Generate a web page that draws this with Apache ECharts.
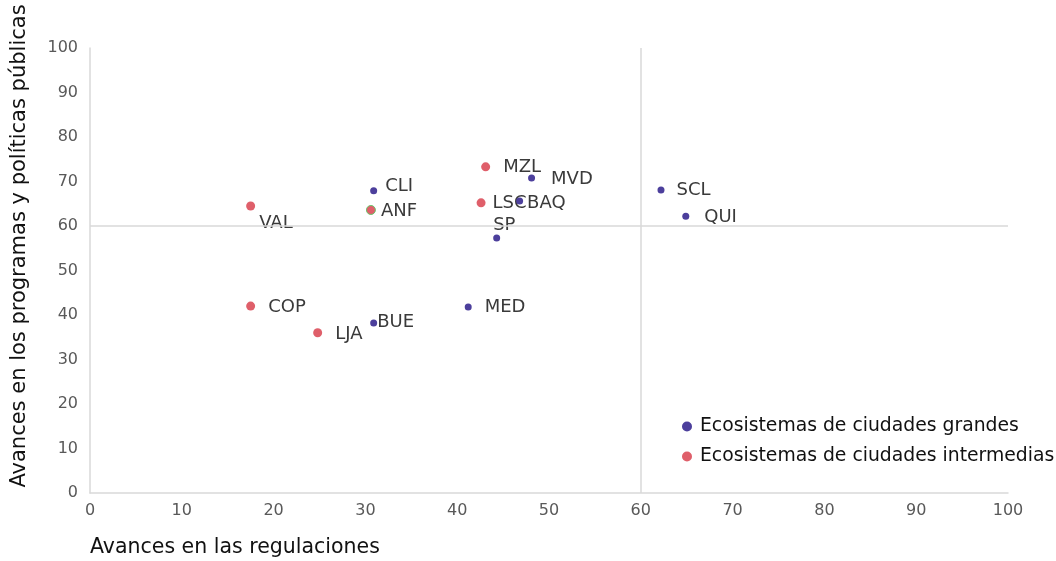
<!DOCTYPE html>
<html><head><meta charset="utf-8">
<script src="https://cdn.jsdelivr.net/npm/echarts@6/dist/echarts.min.js"></script>
<style>html,body{margin:0;padding:0;background:#fff}#c{width:1056px;height:561px}</style>
</head><body><div id="c"></div>
<script>
// Data
const grandesNames = ['CLI','MVD','BAQ','SP','SCL','QUI','BUE','MED'];
const grandesX = [30.9, 48.1, 46.8, 44.3, 62.2, 64.9, 30.9, 41.2];
const grandesY = [67.9, 70.8, 65.6, 57.3, 68.1, 62.2, 38.2, 41.8];
const intermNames = ['VAL','ANF','MZL','LSC','COP','LJA'];
const intermX = [17.5, 30.6, 43.1, 42.6, 17.5, 24.8];
const intermY = [64.5, 63.6, 73.3, 65.2, 42.0, 36.0];
const seriesNames = ['Ecosistemas de ciudades grandes','Ecosistemas de ciudades intermedias'];
const axisTicks = [0,10,20,30,40,50,60,70,80,90,100];
const refX = 60, refY = 60;

// Label placement (style only)
const labelOffsets = {
  CLI:[3,-5], MVD:[11,1], BAQ:[-1,2], SP:[-12,-13], SCL:[7,0], QUI:[10,1], BUE:[-5,-1], MED:[8,0],
  VAL:[-1,17], ANF:[0,1], MZL:[8,1], LSC:[2,0], COP:[8,1], LJA:[8,2]
};

const FONT = '"DejaVu Sans", sans-serif';
function build(names, xs, ys, extra){
  return names.map((n,i)=>{
    const o = {name:n, value:[xs[i], ys[i]], label:{offset: labelOffsets[n] || [0,0]}};
    if (extra && extra[n]) Object.assign(o, extra[n]);
    return o;
  });
}

const chart = echarts.init(document.getElementById('c'), null, {renderer:'canvas'});
const labelCfg = {show:true, position:'right', distance:5, formatter:p=>p.name,
  color:'#3a3a3a', fontSize:18, fontFamily:FONT};
chart.setOption({
  animation:false,
  grid:{left:90, right:48, top:48, bottom:68},
  xAxis:{type:'value', min:0, max:100, interval:10,
    axisLine:{show:true, lineStyle:{color:'#d9d9d9', width:1.5}},
    axisTick:{show:false}, splitLine:{show:false},
    axisLabel:{color:'#595959', fontSize:16, fontFamily:FONT, margin:10,
      formatter:v=>axisTicks.indexOf(v)>=0? String(v):''}},
  yAxis:{type:'value', min:0, max:100, interval:10,
    axisLine:{show:true, lineStyle:{color:'#d9d9d9', width:1.5}},
    axisTick:{show:false}, splitLine:{show:false},
    axisLabel:{color:'#595959', fontSize:16, fontFamily:FONT, margin:12,
      formatter:v=>axisTicks.indexOf(v)>=0? String(v):''}},
  legend:{orient:'vertical', left:677, top:412, itemGap:11, itemWidth:10, itemHeight:10,
    icon:'circle', textStyle:{color:'#111', fontSize:18.8, fontFamily:FONT, padding:[0,0,0,3]},
    data:seriesNames},
  graphic:[
    {type:'text', left:90, top:537, style:{text:'Avances en las regulaciones', fill:'#111', fontSize:20.5, fontFamily:FONT}},
    {type:'text', x:20, y:246, rotation:Math.PI/2,
      style:{text:'Avances en los programas y políticas públicas', fill:'#111', fontSize:21, fontFamily:FONT,
        align:'center', verticalAlign:'middle'}}
  ],
  series:[
    {name:seriesNames[0], type:'scatter', symbolSize:7, itemStyle:{color:'#4c3f9c', opacity:1},
      label:labelCfg, z:3,
      data:build(grandesNames, grandesX, grandesY),
      markLine:{silent:true, symbol:'none', label:{show:false},
        lineStyle:{color:'#d9d9d9', width:1.5, type:'solid'},
        data:[{xAxis:refX},{yAxis:refY}]}},
    {name:seriesNames[1], type:'scatter', symbolSize:9, itemStyle:{color:'#df5f6a', opacity:1},
      label:labelCfg, z:2,
      data:build(intermNames, intermX, intermY, {ANF:{itemStyle:{borderColor:'#6cc36c', borderWidth:1}}})}
  ]
});
</script></body></html>
